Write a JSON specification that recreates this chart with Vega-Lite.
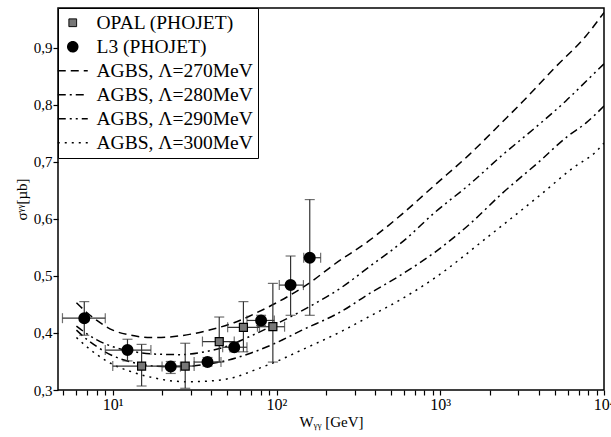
{
  "$schema": "https://vega.github.io/schema/vega-lite/v6.json",
  "width": 546,
  "height": 382,
  "autosize": "none",
  "padding": {"left": 58, "top": 8, "right": 7, "bottom": 47},
  "background": "white",
  "datasets": {
    "curves": [
      {"series": "AGBS, Λ=270MeV", "W": 6, "sigma": 0.453},
      {"series": "AGBS, Λ=270MeV", "W": 7, "sigma": 0.435},
      {"series": "AGBS, Λ=270MeV", "W": 8, "sigma": 0.422},
      {"series": "AGBS, Λ=270MeV", "W": 10, "sigma": 0.405},
      {"series": "AGBS, Λ=270MeV", "W": 13, "sigma": 0.396},
      {"series": "AGBS, Λ=270MeV", "W": 17, "sigma": 0.392},
      {"series": "AGBS, Λ=270MeV", "W": 22, "sigma": 0.393},
      {"series": "AGBS, Λ=270MeV", "W": 30, "sigma": 0.398},
      {"series": "AGBS, Λ=270MeV", "W": 40, "sigma": 0.406},
      {"series": "AGBS, Λ=270MeV", "W": 55, "sigma": 0.418},
      {"series": "AGBS, Λ=270MeV", "W": 75, "sigma": 0.435},
      {"series": "AGBS, Λ=270MeV", "W": 100, "sigma": 0.453},
      {"series": "AGBS, Λ=270MeV", "W": 156, "sigma": 0.486},
      {"series": "AGBS, Λ=270MeV", "W": 227, "sigma": 0.521},
      {"series": "AGBS, Λ=270MeV", "W": 364, "sigma": 0.561},
      {"series": "AGBS, Λ=270MeV", "W": 582, "sigma": 0.608},
      {"series": "AGBS, Λ=270MeV", "W": 931, "sigma": 0.660},
      {"series": "AGBS, Λ=270MeV", "W": 1493, "sigma": 0.712},
      {"series": "AGBS, Λ=270MeV", "W": 2393, "sigma": 0.770},
      {"series": "AGBS, Λ=270MeV", "W": 3170, "sigma": 0.805},
      {"series": "AGBS, Λ=270MeV", "W": 5000, "sigma": 0.865},
      {"series": "AGBS, Λ=270MeV", "W": 7760, "sigma": 0.921},
      {"series": "AGBS, Λ=270MeV", "W": 10000, "sigma": 0.962},
      {"series": "AGBS, Λ=290MeV", "W": 6, "sigma": 0.412},
      {"series": "AGBS, Λ=290MeV", "W": 7, "sigma": 0.398},
      {"series": "AGBS, Λ=290MeV", "W": 8, "sigma": 0.388},
      {"series": "AGBS, Λ=290MeV", "W": 10, "sigma": 0.376},
      {"series": "AGBS, Λ=290MeV", "W": 13, "sigma": 0.368},
      {"series": "AGBS, Λ=290MeV", "W": 18, "sigma": 0.363},
      {"series": "AGBS, Λ=290MeV", "W": 26, "sigma": 0.362},
      {"series": "AGBS, Λ=290MeV", "W": 35, "sigma": 0.366},
      {"series": "AGBS, Λ=290MeV", "W": 50, "sigma": 0.377},
      {"series": "AGBS, Λ=290MeV", "W": 70, "sigma": 0.395},
      {"series": "AGBS, Λ=290MeV", "W": 100, "sigma": 0.416},
      {"series": "AGBS, Λ=290MeV", "W": 156, "sigma": 0.445},
      {"series": "AGBS, Λ=290MeV", "W": 250, "sigma": 0.480},
      {"series": "AGBS, Λ=290MeV", "W": 364, "sigma": 0.515},
      {"series": "AGBS, Λ=290MeV", "W": 600, "sigma": 0.562},
      {"series": "AGBS, Λ=290MeV", "W": 931, "sigma": 0.612},
      {"series": "AGBS, Λ=290MeV", "W": 1500, "sigma": 0.660},
      {"series": "AGBS, Λ=290MeV", "W": 2393, "sigma": 0.712},
      {"series": "AGBS, Λ=290MeV", "W": 3800, "sigma": 0.760},
      {"series": "AGBS, Λ=290MeV", "W": 5850, "sigma": 0.807},
      {"series": "AGBS, Λ=290MeV", "W": 8000, "sigma": 0.845},
      {"series": "AGBS, Λ=290MeV", "W": 10000, "sigma": 0.872},
      {"series": "AGBS, Λ=280MeV", "W": 6, "sigma": 0.405},
      {"series": "AGBS, Λ=280MeV", "W": 7, "sigma": 0.388},
      {"series": "AGBS, Λ=280MeV", "W": 8, "sigma": 0.376},
      {"series": "AGBS, Λ=280MeV", "W": 10, "sigma": 0.360},
      {"series": "AGBS, Λ=280MeV", "W": 13, "sigma": 0.349},
      {"series": "AGBS, Λ=280MeV", "W": 18, "sigma": 0.342},
      {"series": "AGBS, Λ=280MeV", "W": 25, "sigma": 0.341},
      {"series": "AGBS, Λ=280MeV", "W": 35, "sigma": 0.344},
      {"series": "AGBS, Λ=280MeV", "W": 50, "sigma": 0.352},
      {"series": "AGBS, Λ=280MeV", "W": 70, "sigma": 0.365},
      {"series": "AGBS, Λ=280MeV", "W": 100, "sigma": 0.383},
      {"series": "AGBS, Λ=280MeV", "W": 142, "sigma": 0.4045},
      {"series": "AGBS, Λ=280MeV", "W": 250, "sigma": 0.438},
      {"series": "AGBS, Λ=280MeV", "W": 364, "sigma": 0.468},
      {"series": "AGBS, Λ=280MeV", "W": 600, "sigma": 0.505},
      {"series": "AGBS, Λ=280MeV", "W": 931, "sigma": 0.542},
      {"series": "AGBS, Λ=280MeV", "W": 1500, "sigma": 0.590},
      {"series": "AGBS, Λ=280MeV", "W": 2393, "sigma": 0.645},
      {"series": "AGBS, Λ=280MeV", "W": 4000, "sigma": 0.700},
      {"series": "AGBS, Λ=280MeV", "W": 6000, "sigma": 0.745},
      {"series": "AGBS, Λ=280MeV", "W": 7740, "sigma": 0.768},
      {"series": "AGBS, Λ=280MeV", "W": 10000, "sigma": 0.798},
      {"series": "AGBS, Λ=300MeV", "W": 6, "sigma": 0.392},
      {"series": "AGBS, Λ=300MeV", "W": 7, "sigma": 0.375},
      {"series": "AGBS, Λ=300MeV", "W": 8, "sigma": 0.362},
      {"series": "AGBS, Λ=300MeV", "W": 10, "sigma": 0.345},
      {"series": "AGBS, Λ=300MeV", "W": 13, "sigma": 0.332},
      {"series": "AGBS, Λ=300MeV", "W": 18, "sigma": 0.321},
      {"series": "AGBS, Λ=300MeV", "W": 28, "sigma": 0.3145},
      {"series": "AGBS, Λ=300MeV", "W": 40, "sigma": 0.316},
      {"series": "AGBS, Λ=300MeV", "W": 55, "sigma": 0.322},
      {"series": "AGBS, Λ=300MeV", "W": 75, "sigma": 0.336},
      {"series": "AGBS, Λ=300MeV", "W": 100, "sigma": 0.350},
      {"series": "AGBS, Λ=300MeV", "W": 142, "sigma": 0.370},
      {"series": "AGBS, Λ=300MeV", "W": 250, "sigma": 0.403},
      {"series": "AGBS, Λ=300MeV", "W": 364, "sigma": 0.428},
      {"series": "AGBS, Λ=300MeV", "W": 600, "sigma": 0.462},
      {"series": "AGBS, Λ=300MeV", "W": 931, "sigma": 0.497},
      {"series": "AGBS, Λ=300MeV", "W": 1980, "sigma": 0.570},
      {"series": "AGBS, Λ=300MeV", "W": 4000, "sigma": 0.640},
      {"series": "AGBS, Λ=300MeV", "W": 6500, "sigma": 0.690},
      {"series": "AGBS, Λ=300MeV", "W": 8930, "sigma": 0.718},
      {"series": "AGBS, Λ=300MeV", "W": 10000, "sigma": 0.733}
    ],
    "pts": [
      {"exp": "OPAL (PHOJET)", "W": 15.0, "sigma": 0.342, "Wlo": 10.0, "Whi": 22.6, "slo": 0.307, "shi": 0.380},
      {"exp": "OPAL (PHOJET)", "W": 27.7, "sigma": 0.342, "Wlo": 22.6, "Whi": 31.4, "slo": 0.303, "shi": 0.382},
      {"exp": "OPAL (PHOJET)", "W": 44.7, "sigma": 0.385, "Wlo": 35.3, "Whi": 55.2, "slo": 0.349, "shi": 0.428},
      {"exp": "OPAL (PHOJET)", "W": 62.8, "sigma": 0.410, "Wlo": 50.3, "Whi": 78.7, "slo": 0.367, "shi": 0.455},
      {"exp": "OPAL (PHOJET)", "W": 95.0, "sigma": 0.411, "Wlo": 76.5, "Whi": 112, "slo": 0.349, "shi": 0.487},
      {"exp": "L3 (PHOJET)", "W": 6.7, "sigma": 0.426, "Wlo": 4.93, "Whi": 9.0, "slo": 0.396, "shi": 0.455},
      {"exp": "L3 (PHOJET)", "W": 12.3, "sigma": 0.370, "Wlo": 9.0, "Whi": 17.1, "slo": 0.351, "shi": 0.389},
      {"exp": "L3 (PHOJET)", "W": 22.6, "sigma": 0.341, "Wlo": 20.0, "Whi": 25.9, "slo": 0.329, "shi": 0.350},
      {"exp": "L3 (PHOJET)", "W": 37.9, "sigma": 0.349, "Wlo": 31.4, "Whi": 45.8, "slo": 0.342, "shi": 0.357},
      {"exp": "L3 (PHOJET)", "W": 55.2, "sigma": 0.375, "Wlo": 46.9, "Whi": 66, "slo": 0.367, "shi": 0.384},
      {"exp": "L3 (PHOJET)", "W": 80.5, "sigma": 0.422, "Wlo": 66, "Whi": 97, "slo": 0.413, "shi": 0.431},
      {"exp": "L3 (PHOJET)", "W": 121.9, "sigma": 0.484, "Wlo": 104, "Whi": 146, "slo": 0.431, "shi": 0.535},
      {"exp": "L3 (PHOJET)", "W": 159.6, "sigma": 0.532, "Wlo": 146.6, "Whi": 186, "slo": 0.431, "shi": 0.634}
    ]
  },
  "config": {
    "font": "Liberation Serif",
    "view": {"stroke": "black", "strokeWidth": 1.5},
    "axis": {
      "labelFont": "Liberation Serif",
      "labelFontSize": 15,
      "labelColor": "black",
      "titleFont": "Liberation Serif",
      "titleFontSize": 15,
      "titleFontWeight": "normal",
      "titleColor": "black",
      "domain": false,
      "grid": false,
      "ticks": true,
      "tickColor": "black",
      "tickWidth": 1.2,
      "tickSize": 5
    }
  },
  "layer": [
    {
      "data": {"name": "curves"},
      "mark": {"type": "line", "color": "black", "strokeWidth": 1.5, "interpolate": "monotone", "clip": true},
      "encoding": {
        "x": {
          "field": "W", "type": "quantitative",
          "scale": {"type": "log", "domain": [4.63, 10000], "nice": false},
          "axis": {
            "orient": "bottom",
            "values": [5,6,7,8,9,10,20,30,40,50,60,70,80,90,100,200,300,400,500,600,700,800,900,1000,2000,3000,4000,5000,6000,7000,8000,9000,10000],
            "labelExpr": "datum.value == 10 ? '10¹' : datum.value == 100 ? '10²' : datum.value == 1000 ? '10³' : datum.value == 10000 ? '10⁴' : ''",
            "labelPadding": 1,
            "labelFontSize": 16,
            "labelFlush": false,
            "labelOverlap": false,
            "title": "Wᵧᵧ [GeV]",
            "titlePadding": 2
          }
        },
        "y": {
          "field": "sigma", "type": "quantitative",
          "scale": {"domain": [0.3, 0.97], "nice": false, "zero": false},
          "axis": {
            "orient": "left",
            "values": [0.3,0.35,0.4,0.45,0.5,0.55,0.6,0.65,0.7,0.75,0.8,0.85,0.9,0.95],
            "labelExpr": "abs(datum.value*10 - round(datum.value*10)) < 0.001 ? replace(format(datum.value, '.1f'), '.', ',') : ''",
            "labelPadding": 1,
            "labelFlush": false,
            "labelOverlap": false,
            "title": "σᵞᵞ[µb]",
            "titlePadding": 4
          }
        },
        "strokeDash": {
          "field": "series", "type": "nominal",
          "scale": {
            "domain": ["OPAL (PHOJET)", "L3 (PHOJET)", "AGBS, Λ=270MeV", "AGBS, Λ=280MeV", "AGBS, Λ=290MeV", "AGBS, Λ=300MeV"],
            "range": [[1,0],[1,0],[8,5],[8,4,2,4],[8,4,2,4,2,4],[2,5]]
          },
          "legend": {
            "title": null,
            "orient": "top-left",
            "offset": 0,
            "padding": 5,
            "strokeColor": "black",
            "fillColor": "white",
            "labelFont": "Liberation Serif",
            "labelFontSize": 19.5,
            "labelColor": "black",
            "labelLimit": 400,
            "labelOffset": 14,
            "rowPadding": 3,
            "symbolType": "stroke",
            "symbolSize": 900,
            "symbolStrokeWidth": 1.5,
            "symbolStrokeColor": "black",
            "symbolOpacity": 1,
            "encode": {
              "symbols": {
                "update": {
                  "shape": {"signal": "datum.value == 'OPAL (PHOJET)' ? 'square' : datum.value == 'L3 (PHOJET)' ? 'circle' : 'stroke'"},
                  "size": {"signal": "datum.value == 'OPAL (PHOJET)' ? 60 : datum.value == 'L3 (PHOJET)' ? 100 : 900"},
                  "fill": {"signal": "datum.value == 'OPAL (PHOJET)' ? '#777777' : datum.value == 'L3 (PHOJET)' ? 'black' : 'transparent'"},
                  "stroke": {"value": "black"},
                  "opacity": {"value": 1},
                  "strokeWidth": {"signal": "datum.value == 'OPAL (PHOJET)' ? 1 : 1.5"}
                }
              }
            }
          }
        }
      }
    },
    {
      "data": {"name": "pts"},
      "mark": {"type": "rule", "color": "#333333", "strokeWidth": 1.2},
      "encoding": {
        "x": {"field": "W", "type": "quantitative"},
        "y": {"field": "slo", "type": "quantitative"},
        "y2": {"field": "shi"}
      }
    },
    {
      "data": {"name": "pts"},
      "mark": {"type": "rule", "color": "#333333", "strokeWidth": 1.2},
      "encoding": {
        "x": {"field": "Wlo", "type": "quantitative"},
        "x2": {"field": "Whi"},
        "y": {"field": "sigma", "type": "quantitative"}
      }
    },
    {
      "data": {"name": "pts"},
      "mark": {"type": "tick", "orient": "horizontal", "color": "#333333", "size": 10, "thickness": 1.2},
      "encoding": {
        "x": {"field": "W", "type": "quantitative"},
        "y": {"field": "slo", "type": "quantitative"}
      }
    },
    {
      "data": {"name": "pts"},
      "mark": {"type": "tick", "orient": "horizontal", "color": "#333333", "size": 10, "thickness": 1.2},
      "encoding": {
        "x": {"field": "W", "type": "quantitative"},
        "y": {"field": "shi", "type": "quantitative"}
      }
    },
    {
      "data": {"name": "pts"},
      "mark": {"type": "tick", "orient": "vertical", "color": "#333333", "size": 10, "thickness": 1.2},
      "encoding": {
        "x": {"field": "Wlo", "type": "quantitative"},
        "y": {"field": "sigma", "type": "quantitative"}
      }
    },
    {
      "data": {"name": "pts"},
      "mark": {"type": "tick", "orient": "vertical", "color": "#333333", "size": 10, "thickness": 1.2},
      "encoding": {
        "x": {"field": "Whi", "type": "quantitative"},
        "y": {"field": "sigma", "type": "quantitative"}
      }
    },
    {
      "data": {"name": "pts"},
      "transform": [{"filter": "datum.exp == 'OPAL (PHOJET)'"}],
      "mark": {"type": "point", "shape": "square", "filled": true, "fill": "#777777", "stroke": "black", "strokeWidth": 1.2, "size": 64, "opacity": 1},
      "encoding": {
        "x": {"field": "W", "type": "quantitative"},
        "y": {"field": "sigma", "type": "quantitative"}
      }
    },
    {
      "data": {"name": "pts"},
      "transform": [{"filter": "datum.exp == 'L3 (PHOJET)'"}],
      "mark": {"type": "point", "shape": "circle", "filled": true, "fill": "black", "stroke": "black", "size": 100, "opacity": 1},
      "encoding": {
        "x": {"field": "W", "type": "quantitative"},
        "y": {"field": "sigma", "type": "quantitative"}
      }
    }
  ]
}
